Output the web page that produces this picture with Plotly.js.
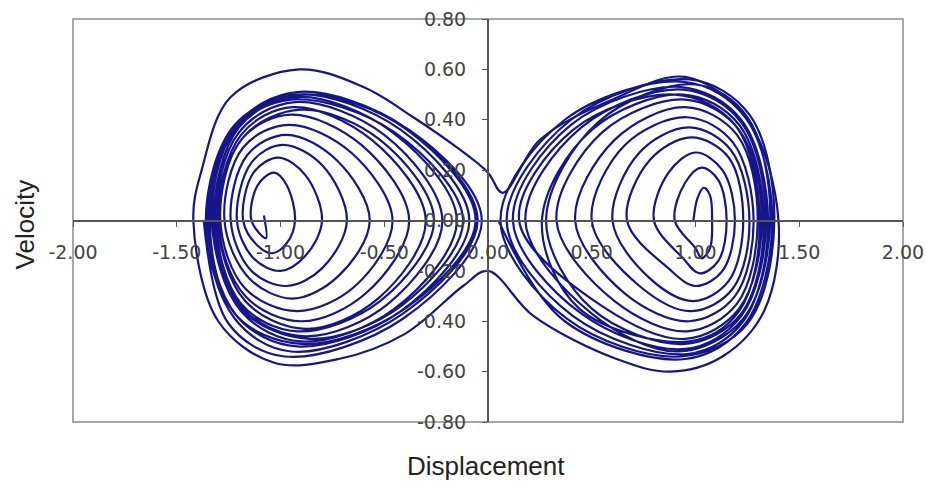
<!DOCTYPE html>
<html>
<head>
<meta charset="utf-8">
<script src="https://cdn.plot.ly/plotly-3.0.1.min.js"></script>
<style>
  html, body { margin: 0; padding: 0; background: #ffffff; }
  #chart { width: 930px; height: 487px; }
</style>
</head>
<body>
<div id="chart"></div>
<script>
// Tick labels
const xTickVals = [-2, -1.5, -1, -0.5, 0, 0.5, 1, 1.5, 2];
const xTickText = ["-2.00", "-1.50", "-1.00", "-0.50", "0.00", "0.50", "1.00", "1.50", "2.00"];
const yTickVals = [-0.8, -0.6, -0.4, -0.2, 0, 0.2, 0.4, 0.6, 0.8];
const yTickText = ["-0.80", "-0.60", "-0.40", "-0.20", "0.00", "0.20", "0.40", "0.60", "0.80"];

// Left-well orbits (displacement, velocity)
const leftX = [-1.08, -1.07,
  -1.14, -1.11, -1.03, -0.97, -0.93, -0.97, -1.04, -1.11,
  -1.18, -1.13, -1.01, -0.88, -0.80, -0.88, -1.00, -1.13,
  -1.21, -1.14, -0.99, -0.80, -0.68, -0.80, -0.97, -1.14,
  -1.24, -1.16, -0.97, -0.73, -0.57, -0.72, -0.94, -1.15,
  -1.27, -1.18, -0.96, -0.66, -0.46, -0.64, -0.92, -1.17,
  -1.29, -1.19, -0.95, -0.61, -0.38, -0.59, -0.90, -1.17,
  -1.30, -1.19, -0.94, -0.56, -0.30, -0.53, -0.88, -1.17,
  -1.30, -1.18, -0.90, -0.52, -0.26, -0.52, -0.92, -1.19,
  -1.31, -1.20, -0.93, -0.50, -0.22, -0.48, -0.88, -1.18,
  -1.32, -1.20, -0.92, -0.46, -0.15, -0.45, -0.90, -1.19,
  -1.33, -1.22, -0.95, -0.45, -0.12, -0.42, -0.86, -1.19,
  -1.33, -1.21, -0.92, -0.42, -0.09, -0.42, -0.92, -1.21,
  -1.35, -1.21, -0.88, -0.39, -0.06, -0.40, -0.90, -1.22,
  -1.34, -1.21, -0.92, -0.40, -0.05, -0.41, -0.95, -1.22,
  -1.36, -1.22, -0.90, -0.38, -0.03, -0.41, -0.98, -1.25,
  -1.37];
const leftV = [0.02, -0.07,
  0, 0.14, 0.19, 0.14, 0, -0.09, -0.13, -0.10,
  0, 0.19, 0.25, 0.18, 0, -0.14, -0.20, -0.15,
  0, 0.23, 0.30, 0.22, 0, -0.19, -0.26, -0.20,
  0, 0.26, 0.34, 0.24, 0, -0.22, -0.31, -0.23,
  0, 0.29, 0.38, 0.27, 0, -0.26, -0.36, -0.27,
  0, 0.32, 0.42, 0.30, 0, -0.29, -0.40, -0.30,
  0, 0.34, 0.45, 0.32, 0, -0.31, -0.43, -0.32,
  0, 0.33, 0.44, 0.32, 0, -0.32, -0.44, -0.33,
  0, 0.35, 0.47, 0.34, 0, -0.33, -0.46, -0.35,
  0, 0.37, 0.49, 0.35, 0, -0.35, -0.48, -0.36,
  0, 0.36, 0.48, 0.35, 0, -0.34, -0.47, -0.35,
  0, 0.38, 0.50, 0.36, 0, -0.36, -0.50, -0.38,
  0, 0.38, 0.50, 0.36, 0, -0.35, -0.49, -0.37,
  0, 0.38, 0.51, 0.37, 0, -0.37, -0.52, -0.39,
  0, 0.38, 0.50, 0.36, 0, -0.39, -0.54, -0.41,
  0];

// Right-well orbits
const rightX = [
  0.99, 1.01, 1.04, 1.07, 1.08, 1.07, 1.03, 1.00,
  0.90, 0.95, 1.03, 1.11, 1.15, 1.11, 1.02, 0.94,
  0.80, 0.87, 1.00, 1.13, 1.19, 1.13, 1.00, 0.87,
  0.67, 0.78, 0.98, 1.16, 1.23, 1.16, 0.99, 0.78,
  0.60, 0.73, 0.97, 1.17, 1.26, 1.18, 0.98, 0.73,
  0.50, 0.66, 0.96, 1.18, 1.28, 1.19, 0.97, 0.66,
  0.42, 0.61, 0.95, 1.20, 1.30, 1.20, 0.96, 0.61,
  0.33, 0.55, 0.95, 1.21, 1.32, 1.21, 0.95, 0.55,
  0.15, 0.41, 0.90, 1.19, 1.31, 1.21, 0.97, 0.44,
  0.26, 0.50, 0.94, 1.21, 1.33, 1.22, 0.95, 0.50,
  0.28, 0.53, 1.00, 1.25, 1.36, 1.23, 0.92, 0.50,
  0.18, 0.45, 0.94, 1.22, 1.34, 1.22, 0.95, 0.45,
  0.12, 0.40, 0.93, 1.22, 1.35, 1.23, 0.96, 0.41,
  0.09, 0.40, 0.97, 1.26, 1.38, 1.25, 0.93, 0.38,
  0.06, 0.37, 0.95, 1.24, 1.37, 1.24, 0.95, 0.37,
  0.05];
const rightV = [
  0, 0.09, 0.13, 0.10, 0, -0.11, -0.15, -0.11,
  0, 0.15, 0.21, 0.16, 0, -0.16, -0.21, -0.15,
  0, 0.19, 0.27, 0.20, 0, -0.20, -0.26, -0.19,
  0, 0.24, 0.33, 0.25, 0, -0.24, -0.32, -0.23,
  0, 0.27, 0.37, 0.28, 0, -0.27, -0.36, -0.26,
  0, 0.30, 0.41, 0.31, 0, -0.30, -0.40, -0.29,
  0, 0.32, 0.45, 0.34, 0, -0.33, -0.44, -0.32,
  0, 0.35, 0.48, 0.36, 0, -0.35, -0.47, -0.34,
  0, 0.36, 0.50, 0.38, 0, -0.36, -0.48, -0.35,
  0, 0.36, 0.50, 0.38, 0, -0.37, -0.49, -0.35,
  0, 0.39, 0.54, 0.41, 0, -0.39, -0.52, -0.37,
  0, 0.37, 0.52, 0.39, 0, -0.38, -0.51, -0.37,
  0, 0.38, 0.53, 0.40, 0, -0.40, -0.53, -0.38,
  0, 0.40, 0.56, 0.42, 0, -0.41, -0.54, -0.39,
  0, 0.40, 0.55, 0.41, 0, -0.41, -0.55, -0.40,
  0];

// Outer orbit that crosses between the two wells
const outerX = [1.40, 1.33, 1.13, 0.88, 0.62, 0.22, 0.00, -0.12, -0.40, -0.72, -1.03, -1.30, -1.42, -1.38, -1.24, -0.91, -0.60, -0.36, -0.15, 0.00, 0.07, 0.25, 0.60, 0.95, 1.25, 1.40];
const outerV = [0.00, -0.36, -0.54, -0.60, -0.55, -0.38, -0.20, -0.26, -0.45, -0.55, -0.565, -0.40, 0.00, 0.20, 0.49, 0.60, 0.53, 0.41, 0.29, 0.19, 0.11, 0.32, 0.48, 0.57, 0.40, 0.00];

const lineStyle = { color: '#16168c', width: 2.2, shape: 'spline', smoothing: 1.0 };
const traces = [
  { x: leftX, y: leftV, mode: 'lines', line: lineStyle, hoverinfo: 'skip', showlegend: false },
  { x: rightX, y: rightV, mode: 'lines', line: lineStyle, hoverinfo: 'skip', showlegend: false },
  { x: outerX, y: outerV, mode: 'lines', line: lineStyle, hoverinfo: 'skip', showlegend: false }
];

const tickFont = { family: 'DejaVu Sans', size: 19, color: '#444' };
const layout = {
  width: 930, height: 487,
  margin: { l: 73, r: 27, t: 19, b: 65 },
  paper_bgcolor: '#ffffff', plot_bgcolor: '#ffffff',
  showlegend: false,
  xaxis: {
    range: [-2, 2], tickvals: xTickVals, ticktext: xTickText,
    anchor: 'free', position: 0.5,
    showgrid: false, zeroline: false,
    showline: true, linecolor: '#555', linewidth: 2,
    ticks: 'outside', ticklen: 5, tickcolor: '#555', tickwidth: 1,
    ticklabelstandoff: 10,
    tickfont: tickFont
  },
  yaxis: {
    range: [-0.8, 0.8], tickvals: yTickVals, ticktext: yTickText,
    anchor: 'free', position: 0.5,
    showgrid: false, zeroline: false,
    showline: true, linecolor: '#555', linewidth: 2,
    ticks: 'outside', ticklen: 5, tickcolor: '#555', tickwidth: 1,
    ticklabelstandoff: 12,
    tickfont: tickFont
  },
  shapes: [
    { type: 'rect', xref: 'paper', yref: 'paper', x0: 0, x1: 1, y0: 0, y1: 1,
      line: { color: '#8a8a8a', width: 1.5 }, layer: 'below' }
  ],
  annotations: [
    { text: 'Displacement', xref: 'paper', yref: 'paper', x: 0.497, y: -0.108,
      xanchor: 'center', yanchor: 'middle', showarrow: false,
      font: { family: 'Liberation Sans', size: 26, color: '#222' } },
    { text: 'Velocity', xref: 'paper', yref: 'paper', x: -0.058, y: 0.49,
      xanchor: 'center', yanchor: 'middle', showarrow: false, textangle: -90,
      font: { family: 'Liberation Sans', size: 26, color: '#222' } }
  ]
};

Plotly.newPlot('chart', traces, layout, { staticPlot: true, displayModeBar: false });
</script>
</body>
</html>
